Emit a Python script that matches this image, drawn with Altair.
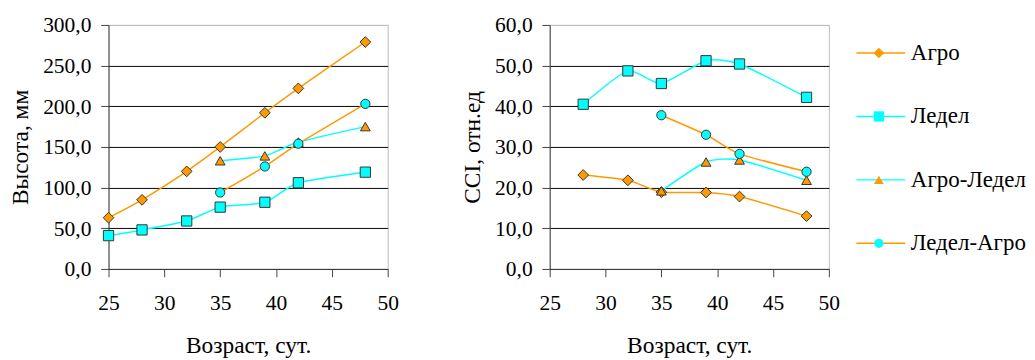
import altair as alt
import pandas as pd

SERIES = ["Агро", "Ледел", "Агро-Ледел", "Ледел-Агро"]
LINE_COLORS = ["#FF9900", "#00FFFF", "#00FFFF", "#FF9900"]
FILL_COLORS = ["#FF9900", "#00FFFF", "#FF9900", "#00FFFF"]
SHAPES = ["diamond", "square", "triangle-up", "circle"]
SIZES = [121, 90, 165, 95]

X_TICKS = [25, 30, 35, 40, 45, 50]

# Left panel: height, mm
H_AGRO_X = [25, 28, 32, 35, 39, 42, 48]
H_AGRO_Y = [63, 85, 120, 150, 192, 222, 279]
H_LEDEL_X = [25, 28, 32, 35, 39, 42, 48]
H_LEDEL_Y = [41, 48, 59, 76, 82, 106, 119]
H_AL_X = [35, 39, 42, 48]
H_AL_Y = [133, 139, 156, 175]
H_LA_X = [35, 39, 42, 48]
H_LA_Y = [94, 126, 154, 203]
H_TICKS = [0, 50, 100, 150, 200, 250, 300]

# Right panel: CCI
C_AGRO_X = [28, 32, 35, 39, 42, 48]
C_AGRO_Y = [23.1, 21.8, 18.9, 18.8, 17.8, 13.0]
C_LEDEL_X = [28, 32, 35, 39, 42, 48]
C_LEDEL_Y = [40.5, 48.7, 45.6, 51.2, 50.4, 42.2]
C_AL_X = [35, 39, 42, 48]
C_AL_Y = [19.2, 26.3, 26.8, 21.8]
C_LA_X = [35, 39, 42, 48]
C_LA_Y = [37.8, 33.0, 28.3, 23.9]
C_TICKS = [0, 10, 20, 30, 40, 50, 60]


def build(pairs):
    rows = []
    for sid, (xs, ys) in enumerate(pairs):
        for xv, yv in zip(xs, ys):
            rows.append({"x": xv, "y": yv, "series": SERIES[sid], "sid": sid})
    return pd.DataFrame(rows)


df_h = build([(H_AGRO_X, H_AGRO_Y), (H_LEDEL_X, H_LEDEL_Y), (H_AL_X, H_AL_Y), (H_LA_X, H_LA_Y)])
df_c = build([(C_AGRO_X, C_AGRO_Y), (C_LEDEL_X, C_LEDEL_Y), (C_AL_X, C_AL_Y), (C_LA_X, C_LA_Y)])

FONT = "Liberation Serif, Times New Roman, serif"
FS = 22
TFS = 24
LFS = 23.5

legend_lines = alt.Legend(
    orient="none", legendX=779.5, legendY=17, title=None,
    symbolType="M-5,0H5", symbolSize=100, symbolStrokeWidth=1.5,
    labelFont=FONT, labelFontSize=LFS, labelColor="black", labelOffset=19,
    rowPadding=40, padding=0,
)
legend_marks = alt.Legend(
    orient="none", legendX=777.5, legendY=17, title=None,
    symbolStrokeColor="#333333", symbolStrokeWidth=1,
    labelFont=FONT, labelFontSize=LFS, labelOpacity=0,
    rowPadding=40, padding=0,
)


def panel(df, ticks, ytitle, title_pad):
    ymax = ticks[-1]
    x = alt.X(
        "x:Q",
        scale=alt.Scale(domain=[25, 50], nice=False),
        axis=alt.Axis(values=X_TICKS, title="Возраст, сут.", grid=False,
                      labelFlush=False, labelPadding=17, titlePadding=21),
    )
    y = alt.Y(
        "y:Q",
        scale=alt.Scale(domain=[0, ymax], nice=False),
        axis=alt.Axis(
            values=ticks, title=ytitle, grid=True, labelFlush=False,
            gridColor={"condition": {"test": f"datum.value >= {ymax}", "value": "#BBBBBB"},
                       "value": "#000000"},
            labelExpr="replace(format(datum.value, '.1f'), '.', ',')",
            labelPadding=10, titlePadding=title_pad,
        ),
    )
    base = alt.Chart(df)
    lines = base.mark_line(interpolate="cardinal", tension=0.4, strokeWidth=1.5).encode(
        x=x, y=y,
        stroke=alt.Stroke("series:N", scale=alt.Scale(domain=SERIES, range=LINE_COLORS),
                          legend=legend_lines),
    )
    pts = base.mark_point(opacity=1, stroke="#333333", strokeWidth=1).encode(
        x=x, y=y,
        shape=alt.Shape("sid:N", scale=alt.Scale(range=SHAPES), legend=legend_marks),
        fill=alt.Fill("sid:N", scale=alt.Scale(range=FILL_COLORS), legend=legend_marks),
        size=alt.Size("sid:N", scale=alt.Scale(range=SIZES), legend=legend_marks),
        order=alt.Order("sid:Q"),
    )
    return alt.layer(lines, pts).properties(width=286, height=250)


left = panel(df_h, H_TICKS, "Высота, мм", 11)
right = panel(df_c, C_TICKS, "CCI, отн.ед", 10.5)

chart = (
    alt.hconcat(left, right, spacing=62)
    .properties(padding={"left": 0, "top": 1, "right": 0, "bottom": 0})
    .configure_view(stroke="#BBBBBB", strokeWidth=1)
    .configure_axis(
        labelFont=FONT, labelFontSize=FS, labelColor="black",
        titleFont=FONT, titleFontSize=TFS, titleColor="black", titleFontWeight="normal",
        domainColor="#404040", tickColor="#404040", tickSize=8,
        gridWidth=1,
    )
)

chart.save("out.html", embed_options={"renderer": "svg", "actions": False})
